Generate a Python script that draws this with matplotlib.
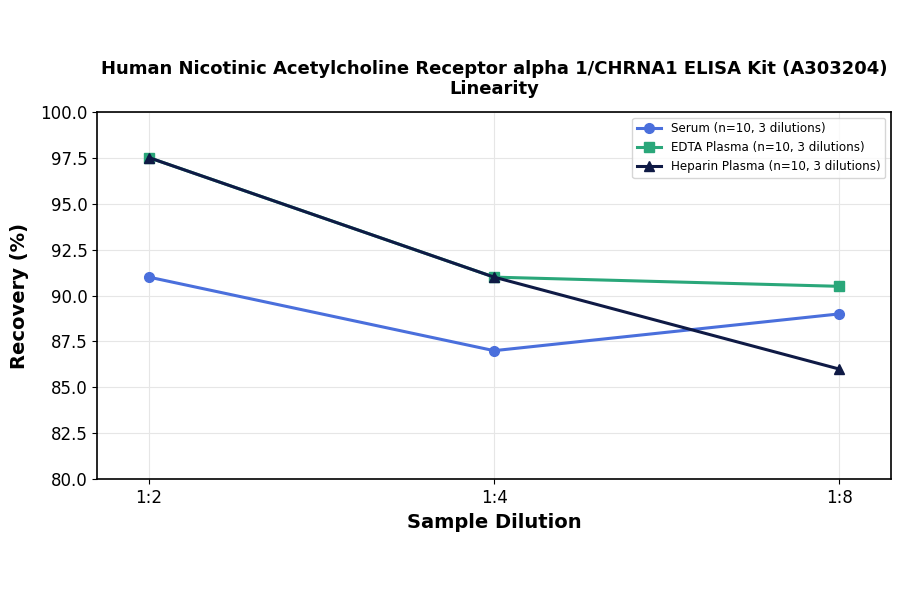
import matplotlib
matplotlib.use("Agg")
import matplotlib.pyplot as plt

# data
dilutions = ["1:2", "1:4", "1:8"]
serum = [91.0, 87.0, 89.0]
edta_plasma = [97.5, 91.0, 90.5]
heparin_plasma = [97.5, 91.0, 86.0]

fig, ax = plt.subplots(figsize=(9, 5.94), dpi=100)
x = range(len(dilutions))

ax.plot(x, serum, color='#4a6fdc', marker='o', markersize=7, linewidth=2.2,
        label='Serum (n=10, 3 dilutions)')
ax.plot(x, edta_plasma, color='#2aa77a', marker='s', markersize=7, linewidth=2.2,
        label='EDTA Plasma (n=10, 3 dilutions)')
ax.plot(x, heparin_plasma, color='#0f1a45', marker='^', markersize=7, linewidth=2.2,
        label='Heparin Plasma (n=10, 3 dilutions)')

ax.set_xticks(list(x))
ax.set_xticklabels(dilutions)
ax.set_xlim(-0.15, 2.15)
ax.set_ylim(80, 100)
ax.set_yticks([80 + 2.5 * i for i in range(9)])
ax.tick_params(labelsize=12)

ax.set_xlabel('Sample Dilution', fontsize=14, fontweight='bold')
ax.set_ylabel('Recovery (%)', fontsize=14, fontweight='bold', labelpad=8)
ax.set_title('Human Nicotinic Acetylcholine Receptor alpha 1/CHRNA1 ELISA Kit (A303204)\nLinearity',
             fontsize=13, fontweight='bold', pad=13, linespacing=1.15)
ax.grid(True, color='#e6e6e6', linewidth=0.8)
ax.legend(loc='upper right', fontsize=8.6)

for sp in ax.spines.values():
    sp.set_linewidth(1.2)

plt.subplots_adjust(left=0.108, right=0.99, top=0.812, bottom=0.193)
plt.savefig('out.png', dpi=100)
